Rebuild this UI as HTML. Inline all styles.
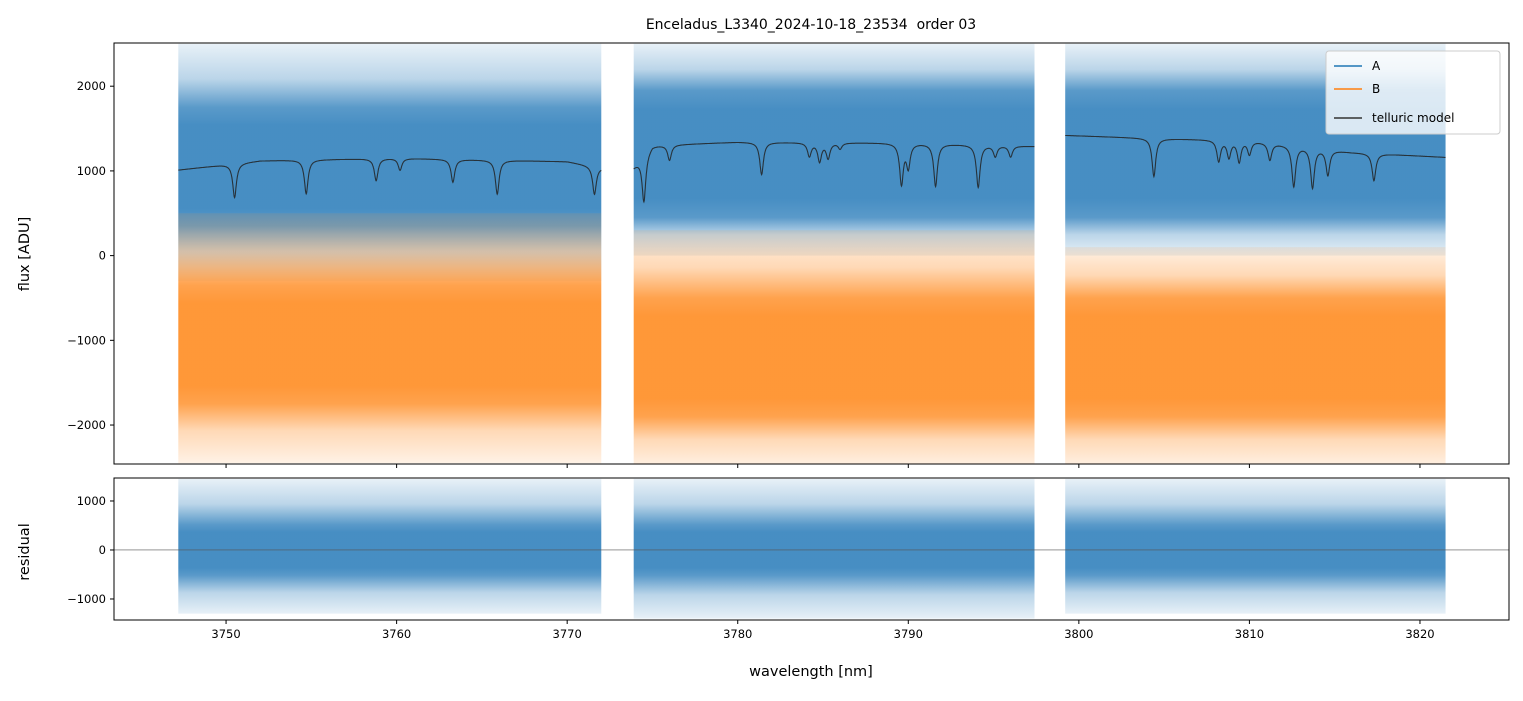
<!DOCTYPE html>
<html><head><meta charset="utf-8"><style>
body{margin:0;background:#fff;}
svg text{font-family:"DejaVu Sans","Liberation Sans",sans-serif;fill:#000;white-space:pre;}
</style></head><body>
<svg id="c" width="1523" height="696" xmlns="http://www.w3.org/2000/svg"></svg>
<script>
// ---- data ----
const segments=[[3747.2,3772.0],[3773.9,3797.4],[3799.2,3821.5]];
// band levels per segment: [extremeLow, coreLow, coreHigh, extremeHigh]
const bandA=[[-300,350,1750,2500],[0,450,1950,2500],[0,450,1950,2500]];
const bandB=[[-2450,-1750,-350,500],[-2500,-1900,-500,300],[-2500,-1900,-500,100]];
const bandR=[[-1300,-520,520,1450],[-1400,-520,520,1450],[-1300,-520,520,1450]];
// telluric continuum nodes
const contX=[[3747.2,3752,3760,3770,3772],[3773.9,3775,3780,3790,3797.4],[3799.2,3805,3810,3816,3821.5]];
const contY=[[1010,1120,1150,1110,1040],[1050,1300,1340,1330,1290],[1420,1380,1360,1220,1160]];
const lineC=[3750.5,3754.7,3758.8,3760.2,3763.3,3765.9,3771.6,3774.5,3776.0,3781.4,3784.2,3784.8,3785.3,3786.0,3789.6,3790.0,3791.6,3794.1,3795.1,3796.0,3804.4,3808.2,3808.8,3809.4,3810.0,3811.2,3812.6,3813.7,3814.6,3817.3];
const lineD=[400,400,260,140,270,400,330,550,180,380,160,220,180,70,480,280,500,500,130,130,450,250,200,250,160,200,480,470,300,320];
const xTicks=[3750,3760,3770,3780,3790,3800,3810,3820];
const yTicksTop=[-2000,-1000,0,1000,2000];
const yTicksBot=[-1000,0,1000];
// ---- axes ----
const svg=document.getElementById('c');const NS='http://www.w3.org/2000/svg';
const L=114,R=1509,T1=43,B1=464,T2=478,B2=620;
const xmin=3743.43,xmax=3825.22;
const X=v=>L+(v-xmin)/(xmax-xmin)*(R-L);
const Y1=v=>T1+(2510-v)/(2510+2460)*(B1-T1);
const Y2=v=>T2+(1469-v)/(1469+1429)*(B2-T2);
function el(tag,attrs,parent){const e=document.createElementNS(NS,tag);for(const k in attrs)e.setAttribute(k,attrs[k]);(parent||svg).appendChild(e);return e;}
function txt(s,x,y,size,anchor,name,extra){const t=el('text',Object.assign({x:x,y:y,'font-size':size,'text-anchor':anchor||'middle'},extra||{}));t.textContent=s;return t;}
const defs=el('defs',{});
const cp1=el('clipPath',{id:'cp1'},defs);el('rect',{x:L,y:T1,width:R-L,height:B1-T1},cp1);
const cp2=el('clipPath',{id:'cp2'},defs);el('rect',{x:L,y:T2,width:R-L,height:B2-T2},cp2);
const g1=el('g',{'clip-path':'url(#cp1)'});


const g2=el('g',{'clip-path':'url(#cp2)'});


let gid=0;
function bands(g,band,Y,color,name){
  segments.forEach((s,i)=>{
    const b=band[i];
    const top=Y(b[3]),bot=Y(b[0]),h=bot-top;
    const o1=(Y(b[2])-top)/h,o2=(Y(b[1])-top)/h;
    const id='gr'+(gid++);
    const lg=el('linearGradient',{id:id,x1:0,y1:0,x2:0,y2:1},defs);
    [[0,0.12],[o1*0.55,0.35],[o1,0.85],[o1+(o2-o1)*0.15,0.95],[o2-(o2-o1)*0.15,0.95],[o2,0.85],[o2+(1-o2)*0.45,0.35],[1,0.12]].forEach(st=>{
      el('stop',{offset:st[0],'stop-color':color,'stop-opacity':st[1]},lg);
    });
    const r=el('rect',{x:X(s[0]),y:top,width:X(s[1])-X(s[0]),height:h,fill:'url(#'+id+')'},g);
    
    
  });
}
bands(g1,bandA,Y1,'#3d88c0','series-a');
bands(g1,bandB,Y1,'#ff922e','series-b');
bands(g2,bandR,Y2,'#3d88c0','residual');
segments.forEach((s,i)=>{
  let pts=[];
  for(let w=s[0];w<=s[1]+1e-9;w+=0.02){
    const cx=contX[i],cy=contY[i];let c=cy[0];
    for(let k=0;k<cx.length-1;k++){if(w>=cx[k]&&w<=cx[k+1]){c=cy[k]+(cy[k+1]-cy[k])*(w-cx[k])/(cx[k+1]-cx[k]);}}
    if(w>cx[cx.length-1])c=cy[cy.length-1];
    let v=c;lineC.forEach((lc,j)=>{const d=(w-lc)/0.13;v-=lineD[j]/(1+d*d);});
    pts.push(X(w).toFixed(1)+','+Y1(v).toFixed(1));
  }
  const p=el('polyline',{points:pts.join(' '),fill:'none',stroke:'#222',opacity:0.85,'stroke-width':1.1},g1);
  
  
});
const z=el('line',{x1:L,x2:R,y1:Y2(0),y2:Y2(0),stroke:'#555','stroke-width':0.6},g2);


[[T1,B1,'flux-axes-frame'],[T2,B2,'residual-axes-frame']].forEach(f=>{const r=el('rect',{x:L,y:f[0],width:R-L,height:f[1]-f[0],fill:'none',stroke:'#000','stroke-width':1});});
xTicks.forEach(v=>{
  el('line',{x1:X(v),x2:X(v),y1:B1,y2:B1+4,stroke:'#000'});
  el('line',{x1:X(v),x2:X(v),y1:B2,y2:B2+4,stroke:'#000'});
  txt(String(v),X(v),B2+18,11.5,'middle','x-tick-label');
});
yTicksTop.forEach(v=>{el('line',{x1:L-4,x2:L,y1:Y1(v),y2:Y1(v),stroke:'#000'});txt(String(v).replace('-','\u2212'),L-8,Y1(v)+4,11.5,'end','y-tick-label');});
yTicksBot.forEach(v=>{el('line',{x1:L-4,x2:L,y1:Y2(v),y2:Y2(v),stroke:'#000'});txt(String(v).replace('-','\u2212'),L-8,Y2(v)+4,11.5,'end','residual-tick-label');});
txt('Enceladus_L3340_2024-10-18_23534  order 03',811,29,14,'middle','chart-title');
txt('wavelength [nm]',811,676,14.5,'middle','x-axis-title');
txt('flux [ADU]',29,254,14.5,'middle','y-axis-title',{transform:'rotate(-90 29 254)'});
txt('residual',29,552,14.5,'middle','residual-axis-title',{transform:'rotate(-90 29 552)'});
const lg=el('g',{});
el('rect',{x:1326,y:51,width:174,height:83,rx:3,fill:'#fff','fill-opacity':0.8,stroke:'#ccc'},lg);
[['A','#1f77b4',66],['B','#ff7f0e',89],['telluric model','#333',118]].forEach(e=>{
  el('line',{x1:1334,x2:1362,y1:e[2],y2:e[2],stroke:e[1],'stroke-width':1.5},lg);
  const t=txt(e[0],1372,e[2]+4,12,'start','legend-entry');lg.appendChild(t);
});
</script>
</body></html>
